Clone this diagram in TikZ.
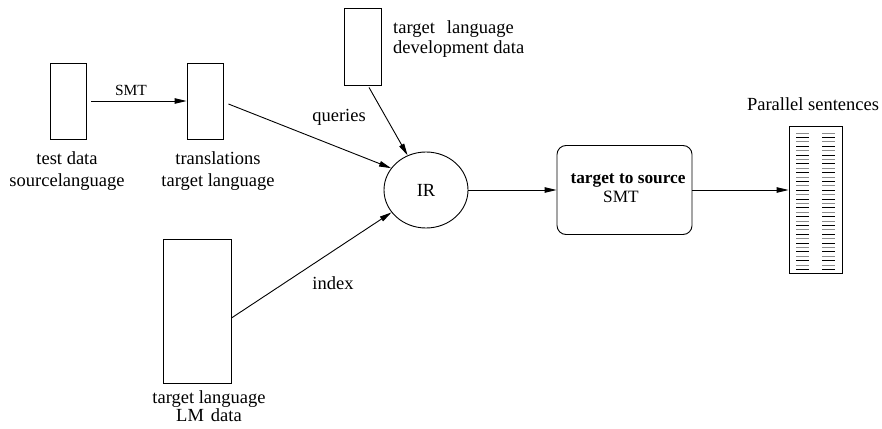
\documentclass[tikz,border=0pt]{standalone}
\usepackage{fontspec}
\setmainfont{Liberation Serif}
\usetikzlibrary{arrows.meta,shapes.geometric,calc}
\begin{document}
\begin{tikzpicture}[x=1pt,y=-1pt]
\tikzset{
  databox/.style={draw, line width=0.9pt, inner sep=0pt},
  lbl/.style={font=\fontsize{18.5}{22.5}\selectfont, inner sep=0pt, align=center},
  conn/.style={line width=0.9pt, -{Triangle[length=12pt,width=5.5pt]}},
  rowblack/.style={line width=0.9pt, black},
  rowgray/.style={line width=0.9pt, black!45},
}
\useasboundingbox (0,0) rectangle (882,428);

% boxes
\node[databox, minimum width=36pt, minimum height=76pt] (test) at (68,101) {};
\node[databox, minimum width=36pt, minimum height=76pt] (trans) at (205,101) {};
\node[databox, minimum width=37pt, minimum height=77pt] (dev) at (362.5,46.5) {};
\node[databox, minimum width=68pt, minimum height=144pt] (lm) at (197,311) {};
\node[draw, ellipse, line width=0.9pt, minimum width=84pt, minimum height=76pt, inner sep=0pt,
      font=\fontsize{18.5}{22}\selectfont] (ir) at (426,190) {IR};
\node[draw, line width=0.9pt, rounded corners=9pt, minimum width=135pt, minimum height=89pt] (smt) at (624.5,190) {};
\node[databox, minimum width=53pt, minimum height=147pt] (par) at (815.5,199.5) {};

% parallel sentence rows
\foreach \i in {0,2,...,30} {
  \draw[rowgray] (796,{133+\i*4.4}) -- (809,{133+\i*4.4});
  \draw[rowgray] (822,{133+\i*4.4}) -- (835,{133+\i*4.4});
}
\foreach \i in {1,3,...,31} {
  \draw[rowblack] (796,{133+\i*4.4}) -- (809,{133+\i*4.4});
  \draw[rowblack] (822,{133+\i*4.4}) -- (835,{133+\i*4.4});
}

% labels
\node[lbl] (testlbl) at (67,171) {test data\\sourcelanguage};
\node[lbl] (translbl) at (218,171) {translations\\target language};
\node[lbl, align=left, anchor=west, font=\fontsize{18.5}{20}\selectfont] (devlbl) at (393,39) {target\hspace{12pt}language\\development data};
\node[lbl, font=\fontsize{18.5}{18.5}\selectfont] (lmlbl) at (209,406) {target language\\LM\hspace{7pt}data};
\node[lbl] (plbl) at (813,104) {Parallel sentences};
\node[lbl] (qlbl) at (339,117) {queries};
\node[lbl] (ilbl) at (333,283) {index};
\node[inner sep=0pt, font=\fontsize{15.5}{18}\selectfont] (smtlbl) at (131,90) {SMT};
\node[inner sep=0pt, font=\fontsize{17.3}{20}\selectfont\bfseries] (smt1) at (628,181) {target to source};
\node[inner sep=0pt, font=\fontsize{17.3}{20}\selectfont] (smt2) at (621,197) {SMT};

% connectors
\draw[conn, shorten <=5pt] (test.east) -- (trans.west);
\coordinate (transout) at ($(trans.east)+(5,3)$);
\draw[conn] (transout) -- (ir.148);
\coordinate (devout) at ($(dev.south)+(6.5,2)$);
\draw[conn] (devout) -- (ir.118);
\coordinate (lmout) at ($(lm.east)+(0,7)$);
\draw[conn] (lmout) -- (ir.213);
\draw[conn] (ir.east) -- (smt.west);
\draw[conn] (smt.east) -- (smt.east -| par.west);
\end{tikzpicture}
\end{document}
